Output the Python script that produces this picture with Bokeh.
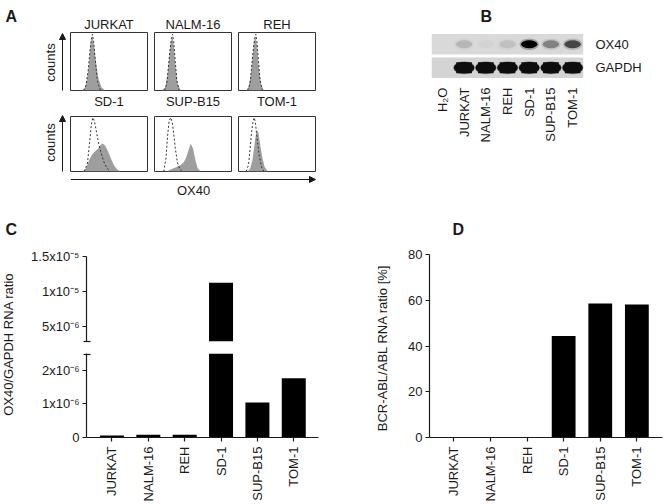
import numpy as np
from bokeh.plotting import figure
from bokeh.layouts import row, column
from bokeh.models import (Range1d, FactorRange, FixedTicker, Arrow, NormalHead,
                          ColumnDataSource, CDSView, BooleanFilter)
from bokeh.core.properties import value
from bokeh.embed import file_html
from bokeh.resources import INLINE

FONT = "Liberation Sans"
INK = "#1a1a1a"

# ---------------- data ----------------
cell_lines = ["JURKAT", "NALM-16", "REH", "SD-1", "SUP-B15", "TOM-1"]

# Panel A: flow histograms (x = % of display width, y = % of box height)
JURKAT_FILL_X = [14, 18, 21, 24, 26, 28, 30, 33, 36, 40, 45]
JURKAT_FILL_Y = [0, 3, 15, 45, 80, 95, 82, 50, 22, 6, 0]
JURKAT_ISO_X = [17, 20, 23, 25, 27, 28.5, 30, 32, 35, 39]
JURKAT_ISO_Y = [0, 8, 35, 65, 88, 97, 85, 55, 15, 0]

NALM16_FILL_X = [10, 14, 17, 19, 21, 23, 25, 27, 30, 34]
NALM16_FILL_Y = [0, 6, 28, 55, 82, 94, 78, 45, 12, 0]
NALM16_ISO_X = [13, 16, 18, 20, 22, 23.5, 25, 27, 29, 32]
NALM16_ISO_Y = [0, 12, 40, 68, 90, 97, 84, 50, 18, 0]

REH_FILL_X = [10, 13, 16, 18, 20, 22, 24, 26, 29, 33]
REH_FILL_Y = [0, 6, 28, 55, 82, 94, 78, 45, 12, 0]
REH_ISO_X = [12, 15, 17, 19, 21, 22.5, 24, 26, 28, 31]
REH_ISO_Y = [0, 12, 40, 68, 90, 97, 84, 50, 18, 0]

SD1_FILL_X = [16, 20, 24, 28, 32, 36, 39, 42, 45, 49, 53, 57, 61, 65]
SD1_FILL_Y = [0, 6, 20, 31, 37, 42, 48, 51, 47, 36, 22, 10, 3, 0]
SD1_ISO_X = [18, 22, 25, 27, 29, 31, 34, 37, 40, 44, 48, 52]
SD1_ISO_Y = [0, 15, 55, 85, 98, 92, 70, 48, 32, 15, 5, 0]

SUPB15_FILL_X = [16, 20, 25, 30, 34, 38, 41, 44, 47, 50, 53, 56, 60]
SUPB15_FILL_Y = [0, 3, 6, 9, 12, 17, 25, 38, 51, 42, 22, 6, 0]
SUPB15_ISO_X = [12, 15, 17, 19, 21, 23, 25, 27, 30, 33, 36]
SUPB15_ISO_Y = [0, 25, 65, 92, 98, 90, 68, 42, 15, 4, 0]

TOM1_FILL_X = [12, 15, 18, 20, 22, 24, 26, 28, 31, 34, 38]
TOM1_FILL_Y = [0, 5, 20, 40, 62, 75, 70, 50, 25, 8, 0]
TOM1_ISO_X = [10, 13, 15, 17, 19, 20.5, 22, 24, 27, 30, 33]
TOM1_ISO_Y = [0, 12, 40, 72, 92, 98, 88, 62, 28, 8, 0]

# Panel B: RT-PCR gel
gel_lanes = ["H\u2082O", "JURKAT", "NALM-16", "REH", "SD-1", "SUP-B15", "TOM-1"]
gel_genes = ["GAPDH", "OX40"]
ox40_band = [0.0, 0.13, 0.02, 0.09, 1.0, 0.35, 0.62]
gapdh_band = [0.0, 1.0, 1.0, 1.0, 1.0, 1.0, 1.0]

# Panel C: OX40/GAPDH RNA ratio
ox40_rna_ratio = [6e-8, 8e-8, 8e-8, 1.124e-5, 1.04e-6, 1.76e-6]
c_upper_ticks = [5e-6, 1e-5, 1.5e-5]
c_upper_labels = ["5x10\u207b\u2076", "1x10\u207b\u2075", "1.5x10\u207b\u2075"]
c_lower_ticks = [0, 1e-6, 2e-6]
c_lower_labels = ["0", "1x10\u207b\u2076", "2x10\u207b\u2076"]

# Panel D: BCR-ABL/ABL RNA ratio [%]
bcr_abl_ratio = [0, 0, 0, 44.4, 58.6, 58.1]
d_ticks = [0, 20, 40, 60, 80]

# ---------------- helpers ----------------
def base_fig(w, h, xr, yr, xloc=None, yloc=None, **borders):
    p = figure(width=w, height=h, x_range=xr, y_range=yr, toolbar_location=None,
               output_backend="svg", x_axis_location=xloc, y_axis_location=yloc,
               min_border=0)
    for k, v in borders.items():
        setattr(p, k, v)
    p.grid.visible = False
    p.outline_line_color = None
    p.background_fill_color = "white"
    p.border_fill_color = "white"
    return p


def style_axis(ax):
    ax.axis_line_color = INK
    ax.axis_line_width = 1.2
    ax.major_tick_line_color = INK
    ax.major_tick_line_width = 1.2
    ax.major_tick_out = 4
    ax.major_tick_in = 0
    ax.minor_tick_line_color = INK
    ax.minor_tick_line_width = 1.2
    ax.minor_tick_in = 4
    ax.minor_tick_out = 3
    ax.major_label_standoff = 3
    ax.major_label_text_font = FONT
    ax.major_label_text_font_size = "13px"
    ax.major_label_text_color = INK
    ax.axis_label_text_font = FONT
    ax.axis_label_text_font_size = "13px"
    ax.axis_label_text_font_style = "normal"
    ax.axis_label_text_color = INK


def text(p, x, y, s, size="13px", bold=False, angle=0, align="left", baseline="alphabetic"):
    xs = x if isinstance(x, list) else [x]
    ys = y if isinstance(y, list) else [y] * len(xs)
    ss = s if isinstance(s, list) else [s] * len(xs)
    p.text(x=xs, y=ys, text=ss, angle=angle, text_font=value(FONT),
           text_font_size=size, text_font_style="bold" if bold else "normal",
           text_align=align, text_baseline=baseline, text_color=INK)


def arrow(p, x0, y0, x1, y1):
    p.add_layout(Arrow(end=NormalHead(size=6, fill_color=INK, line_color=INK),
                       x_start=x0, y_start=y0, x_end=x1, y_end=y1,
                       line_color=INK, line_width=1))


# ---------------- panel A ----------------
a_side = base_fig(70, 210, Range1d(0, 70), Range1d(210, 0))
text(a_side, 5, 16, "A", size="16px", bold=True)
text(a_side, 50, 62, "counts", angle=np.pi / 2, align="center", baseline="middle")
text(a_side, 50, 142, "counts", angle=np.pi / 2, align="center", baseline="middle")
arrow(a_side, 62, 90, 62, 33)
arrow(a_side, 62, 171, 62, 115)

box_centers = [108.5, 192.5, 276.5]
a_t1 = base_fig(250, 32, Range1d(70, 320), Range1d(32, 0))
text(a_t1, box_centers, 24, cell_lines[:3], align="center", baseline="middle")
a_t2 = base_fig(250, 24, Range1d(70, 320), Range1d(116, 92))
text(a_t2, box_centers, 100.5, cell_lines[3:], align="center", baseline="middle")


def hist(fx, fy, ix, iy, w, h, right):
    p = base_fig(w, h, Range1d(0, 100), Range1d(0, 100),
                 min_border_left=0, min_border_right=right, min_border_top=0,
                 min_border_bottom=2)
    p.varea(x=fx, y1=0, y2=fy, fill_color="#9e9e9e")
    p.line(ix, iy, line_dash="2 2", line_color="#333333", line_width=1)
    p.outline_line_color = "#333333"
    p.outline_line_width = 1
    return p


r1 = row(
    hist(JURKAT_FILL_X, JURKAT_FILL_Y, JURKAT_ISO_X, JURKAT_ISO_Y, 84, 60, 7),
    hist(NALM16_FILL_X, NALM16_FILL_Y, NALM16_ISO_X, NALM16_ISO_Y, 84, 60, 7),
    hist(REH_FILL_X, REH_FILL_Y, REH_ISO_X, REH_ISO_Y, 82, 60, 5),
)
r2 = row(
    hist(SD1_FILL_X, SD1_FILL_Y, SD1_ISO_X, SD1_ISO_Y, 84, 57, 7),
    hist(SUPB15_FILL_X, SUPB15_FILL_Y, SUPB15_ISO_X, SUPB15_ISO_Y, 84, 57, 7),
    hist(TOM1_FILL_X, TOM1_FILL_Y, TOM1_ISO_X, TOM1_ISO_Y, 82, 57, 5),
)
a_bottom = base_fig(250, 37, Range1d(70, 320), Range1d(210, 173))
arrow(a_bottom, 70, 179, 315, 179)
text(a_bottom, 193, 190, "OX40", align="center", baseline="middle")
panel_a = row(a_side, column(a_t1, r1, a_t2, r2, a_bottom))

# ---------------- panel B ----------------
b_strip = base_fig(344, 32, Range1d(320, 664), Range1d(32, 0))
text(b_strip, 431, 16, "B", size="16px", bold=True)

gel = base_fig(344, 178, FactorRange(factors=gel_lanes, range_padding=0),
               FactorRange(factors=gel_genes, range_padding=0),
               xloc="below", yloc="right", min_border_left=111, min_border_right=81,
               min_border_top=0, min_border_bottom=131)
gel.hbar(y=gel_genes, left=0, right=len(gel_lanes), height=0.88,
         fill_color=["#d4d4d4", "#d9d9d9"], line_color=None)
gel.ellipse(x=gel_lanes, y=["OX40"] * len(gel_lanes), width=0.9, height=0.5,
            fill_color="black", fill_alpha=[a * 0.25 for a in ox40_band], line_color=None)
gel.ellipse(x=gel_lanes, y=["OX40"] * len(gel_lanes), width=0.75, height=0.34,
            fill_color="black", fill_alpha=ox40_band, line_color=None)
gel.ellipse(x=gel_lanes, y=["GAPDH"] * len(gel_lanes), width=1.0, height=0.56,
            fill_color="black", fill_alpha=[a * 0.3 for a in gapdh_band], line_color=None)
gel.ellipse(x=gel_lanes, y=["GAPDH"] * len(gel_lanes), width=0.95, height=0.48,
            fill_color="#0d0d0d", fill_alpha=gapdh_band, line_color=None)
gel.rect(x=gel_lanes, y=["GAPDH"] * len(gel_lanes), width=0.72, height=0.46,
         fill_color="#0d0d0d", fill_alpha=gapdh_band, line_color=None)
for ax in [gel.xaxis[0], gel.yaxis[0]]:
    style_axis(ax)
    ax.axis_line_color = None
    ax.major_tick_line_color = None
    ax.minor_tick_line_color = None
gel.xaxis.major_label_orientation = np.pi / 2
gel.xaxis.major_label_standoff = 4
gel.yaxis.major_label_standoff = 8
panel_b = column(b_strip, gel)

# ---------------- panel C ----------------
idx = list(range(len(cell_lines)))
c_strip = base_fig(28, 294, Range1d(0, 28), Range1d(504, 210))
text(c_strip, 5, 228.5, "C", size="16px", bold=True)
text(c_strip, 8, 342, "OX40/GAPDH RNA  ratio", angle=np.pi / 2, align="center", baseline="middle")

C_UP_START = 2.8e-6
c_src = ColumnDataSource(dict(x=idx, top=ox40_rna_ratio))
c_x = Range1d(-0.70, 5.68)
c_up = base_fig(312, 133, c_x, Range1d(C_UP_START, 1.502e-5), yloc="left",
                min_border_left=57, min_border_right=22, min_border_top=46,
                min_border_bottom=2)
c_up.vbar(x="x", top="top", bottom=0, width=0.66, source=c_src,
          view=CDSView(filter=BooleanFilter([v > C_UP_START for v in ox40_rna_ratio])),
          fill_color="black", line_color=None)
style_axis(c_up.yaxis[0])
c_up.yaxis.ticker = FixedTicker(ticks=c_upper_ticks, minor_ticks=[2.83e-6])
c_up.yaxis.major_label_overrides = dict(zip(c_upper_ticks, c_upper_labels))

c_low = base_fig(312, 161, c_x, Range1d(0, 2.5e-6), xloc="below", yloc="left",
                 min_border_left=57, min_border_right=22, min_border_top=10,
                 min_border_bottom=66)
c_low.vbar(x="x", top="top", bottom=0, width=0.66, source=c_src,
           fill_color="black", line_color=None)
style_axis(c_low.yaxis[0])
style_axis(c_low.xaxis[0])
c_low.yaxis.ticker = FixedTicker(ticks=c_lower_ticks, minor_ticks=[2.48e-6])
c_low.yaxis.major_label_overrides = dict(zip(c_lower_ticks, c_lower_labels))
c_low.xaxis.ticker = FixedTicker(ticks=idx, minor_ticks=[])
c_low.xaxis.major_label_overrides = dict(zip(idx, cell_lines))
c_low.xaxis.major_label_orientation = np.pi / 2
c_low.xaxis.major_label_standoff = 5
panel_c = row(c_strip, column(c_up, c_low))

# ---------------- panel D ----------------
d_strip = base_fig(324, 30, Range1d(340, 664), Range1d(240, 210))
text(d_strip, 372, 228.5, "D", size="16px", bold=True)
d = base_fig(324, 264, Range1d(-0.664, 5.70), Range1d(0, 80),
             xloc="below", yloc="left", min_border_left=89, min_border_right=2,
             min_border_top=14, min_border_bottom=66)
d.vbar(x=idx, top=bcr_abl_ratio, bottom=0, width=0.65, fill_color="black", line_color=None)
style_axis(d.yaxis[0])
style_axis(d.xaxis[0])
d.yaxis.ticker = FixedTicker(ticks=d_ticks, minor_ticks=[])
d.yaxis.axis_label = "BCR-ABL/ABL RNA  ratio [%]"
d.yaxis.axis_label_standoff = 15
d.xaxis.ticker = FixedTicker(ticks=idx, minor_ticks=[])
d.xaxis.major_label_overrides = dict(zip(idx, cell_lines))
d.xaxis.major_label_orientation = np.pi / 2
d.xaxis.major_label_standoff = 5
panel_d = column(d_strip, d)

layout = column(row(panel_a, panel_b), row(panel_c, panel_d))

open("out.html", "w").write(file_html(layout, INLINE))
